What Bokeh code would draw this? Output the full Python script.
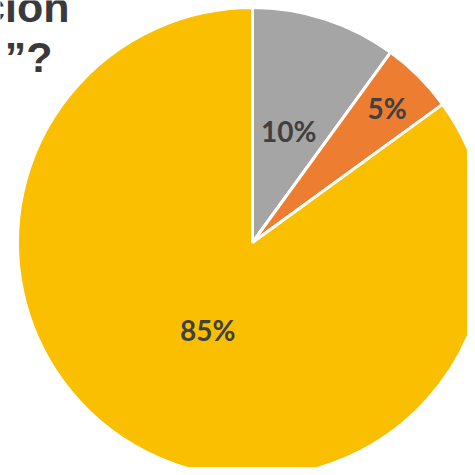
import numpy as np
import pandas as pd
from bokeh.plotting import figure
from bokeh.models import ColumnDataSource
from bokeh.core.properties import value
from bokeh.embed import file_html
from bokeh.resources import INLINE

categories = ["A", "B", "C"]
values = [10, 5, 85]
labels = ["10%", "5%", "85%"]
colors = ["#A5A5A5", "#ED7D31", "#F9BF00"]
title_lines = ["ción", "”?"]

W = H = 467
cx, cy, R = 252, 225, 235
label_r = [0.5, 0.81, 0.42]

df = pd.DataFrame({"cat": categories, "val": values, "label": labels, "color": colors})
frac = df["val"] / df["val"].sum()
ang = frac * 2 * np.pi
df["start"] = np.pi / 2 - ang.cumsum().shift(fill_value=0)
df["end"] = df["start"] - ang
mid = (df["start"] + df["end"]) / 2
df["lx"] = cx + np.array(label_r) * R * np.cos(mid)
df["ly"] = cy + np.array(label_r) * R * np.sin(mid)
src = ColumnDataSource(df)

p = figure(width=W, height=H, x_range=(0, W), y_range=(0, H),
           output_backend="svg", toolbar_location=None, min_border=0)
p.axis.visible = False
p.grid.visible = False
p.outline_line_color = None

p.wedge(x=cx, y=cy, radius=R, start_angle="start", end_angle="end",
        direction="clock", fill_color="color", line_color="white",
        line_width=3, source=src)

p.text(x="lx", y="ly", text="label", source=src, text_align="center",
       text_baseline="middle", text_font=value("Lato"), text_font_style="bold",
       text_font_size="28px", text_color="#404040")

p.text(x=[69, 52], y=[461, 411], text=title_lines, text_align="right",
       text_baseline="alphabetic", text_font=value("Liberation Sans"),
       text_font_style="bold", text_font_size="43px", text_color="#3A3A3A")

open("out.html", "w").write(file_html(p, INLINE))
